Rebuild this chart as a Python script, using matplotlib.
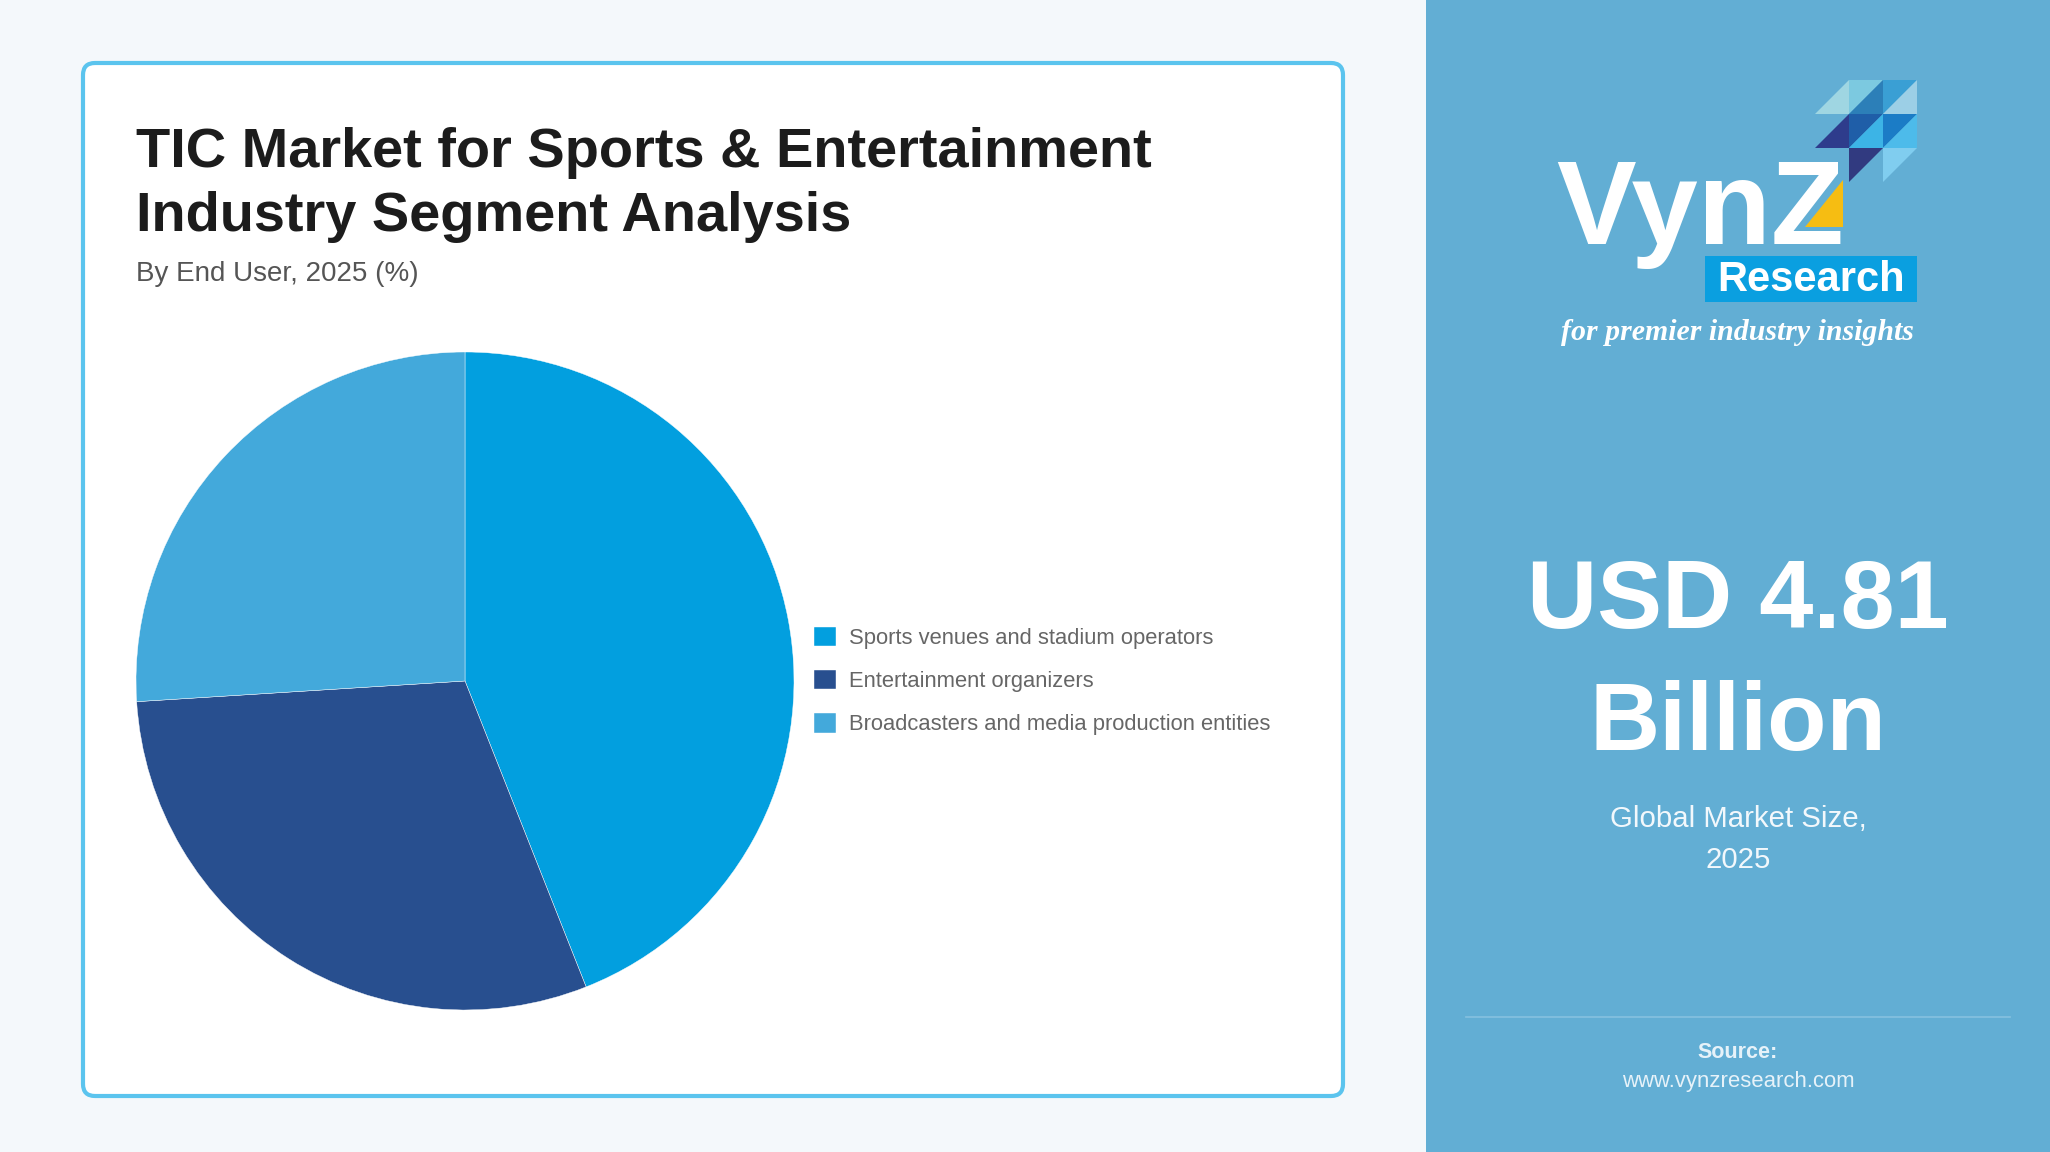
import matplotlib.pyplot as plt
from matplotlib.patches import FancyBboxPatch, Rectangle, Polygon

plt.rcParams['font.family'] = ['Liberation Sans', 'DejaVu Sans']

# data
segments = ['Sports venues and stadium operators',
            'Entertainment organizers',
            'Broadcasters and media production entities']
shares = [44, 30, 26]
colors = ['#029fdf', '#284f8f', '#43a9db']

title_lines = ['TIC Market for Sports & Entertainment', 'Industry Segment Analysis']
subtitle = 'By End User, 2025 (%)'
market_size = ['USD 4.81', 'Billion']
market_note = ['Global Market Size,', '2025']

W, H = 2050, 1152
fig = plt.figure(figsize=(W / 100, H / 100), dpi=100)
fig.patch.set_facecolor('#f4f8fb')

# background layer in pixel coordinates
bg = fig.add_axes([0, 0, 1, 1])
bg.set_xlim(0, W)
bg.set_ylim(H, 0)
bg.axis('off')

# card
bg.add_patch(FancyBboxPatch((83, 63), 1260, 1033,
                            boxstyle='round,pad=0,rounding_size=12',
                            fc='white', ec='#5bc4ee', lw=3))

bg.text(136, 167, title_lines[0], fontsize=40.3, fontweight='bold', color='#1c1c1c', va='baseline')
bg.text(136, 231, title_lines[1], fontsize=40.3, fontweight='bold', color='#1c1c1c', va='baseline')
bg.text(136, 281, subtitle, fontsize=20, color='#555555', va='baseline')

# right panel
bg.add_patch(Rectangle((1426, 0), W - 1426, H, fc='#62aed4', ec='none'))

# logo
tri = [
    ([(1815, 114), (1849, 80), (1849, 114)], '#9fd6e2'),
    ([(1849, 80), (1883, 80), (1849, 114)], '#7cc9e0'),
    ([(1883, 80), (1883, 114), (1849, 114)], '#2c7fb8'),
    ([(1883, 80), (1917, 80), (1883, 114)], '#3a9fd4'),
    ([(1917, 80), (1917, 114), (1883, 114)], '#9ccfe6'),
    ([(1815, 148), (1849, 114), (1849, 148)], '#2e3c8c'),
    ([(1849, 114), (1883, 114), (1849, 148)], '#1f5ea8'),
    ([(1883, 114), (1883, 148), (1849, 148)], '#3cb4e6'),
    ([(1883, 114), (1917, 114), (1883, 148)], '#1b7cc6'),
    ([(1917, 114), (1917, 148), (1883, 148)], '#4dbbea'),
    ([(1849, 148), (1883, 148), (1849, 182)], '#313a80'),
    ([(1883, 148), (1917, 148), (1883, 182)], '#80cdef'),
]
for pts, c in tri:
    bg.add_patch(Polygon(pts, closed=True, fc=c, ec='none'))

bg.text(1556, 244, 'VynZ', fontsize=86, fontweight='bold', color='white', va='baseline')
bg.add_patch(Polygon([(1843, 180), (1843, 227), (1805, 227)], closed=True, fc='#f6bd12', ec='none'))
bg.add_patch(Rectangle((1705, 256), 212, 46, fc='#0a9fe0', ec='none'))
bg.text(1811, 280, 'Research', fontsize=30, fontweight='bold', color='white', ha='center', va='center')
bg.text(1737, 333, 'for premier industry insights', fontsize=21.5, fontstyle='italic',
        fontweight='bold', family='Liberation Serif', color='white', ha='center', va='center')

# market size
bg.text(1738, 603, market_size[0], fontsize=70, fontweight='bold', color='white', ha='center', va='center')
bg.text(1738, 725, market_size[1], fontsize=70, fontweight='bold', color='white', ha='center', va='center')
bg.text(1738, 819, market_note[0], fontsize=21.2, color='#f2f8fc', ha='center', va='center')
bg.text(1738, 860, market_note[1], fontsize=21.2, color='#f2f8fc', ha='center', va='center')

bg.plot([1466, 2010], [1017, 1017], color='#86c1df', lw=1.2)
bg.text(1738, 1052, 'Source:', fontsize=15.5, fontweight='bold', color='#e6f2f9', ha='center', va='center')
bg.text(1738, 1082, 'www.vynzresearch.com', fontsize=15.9, color='#e6f2f9', ha='center', va='center')

# pie
cx, cy, r = 465, 681, 329
ax = fig.add_axes([(cx - r) / W, (H - cy - r) / H, 2 * r / W, 2 * r / H])
wedges, _ = ax.pie(shares, colors=colors, startangle=90, counterclock=False,
                   wedgeprops=dict(edgecolor='white', linewidth=0.3))
ax.set_xlim(-1, 1)
ax.set_ylim(-1, 1)
ax.set_aspect('equal')
ax.axis('off')

leg = ax.legend(wedges, segments, loc='center left', bbox_to_anchor=(814 / W, 1 - 681 / H),
                bbox_transform=fig.transFigure, frameon=False, fontsize=15.8,
                handlelength=1.0, handleheight=1.0, handletextpad=0.6,
                labelspacing=0.95, borderpad=0, borderaxespad=0)
for t in leg.get_texts():
    t.set_color('#666666')

fig.savefig('out.png', dpi=100, facecolor=fig.get_facecolor())
